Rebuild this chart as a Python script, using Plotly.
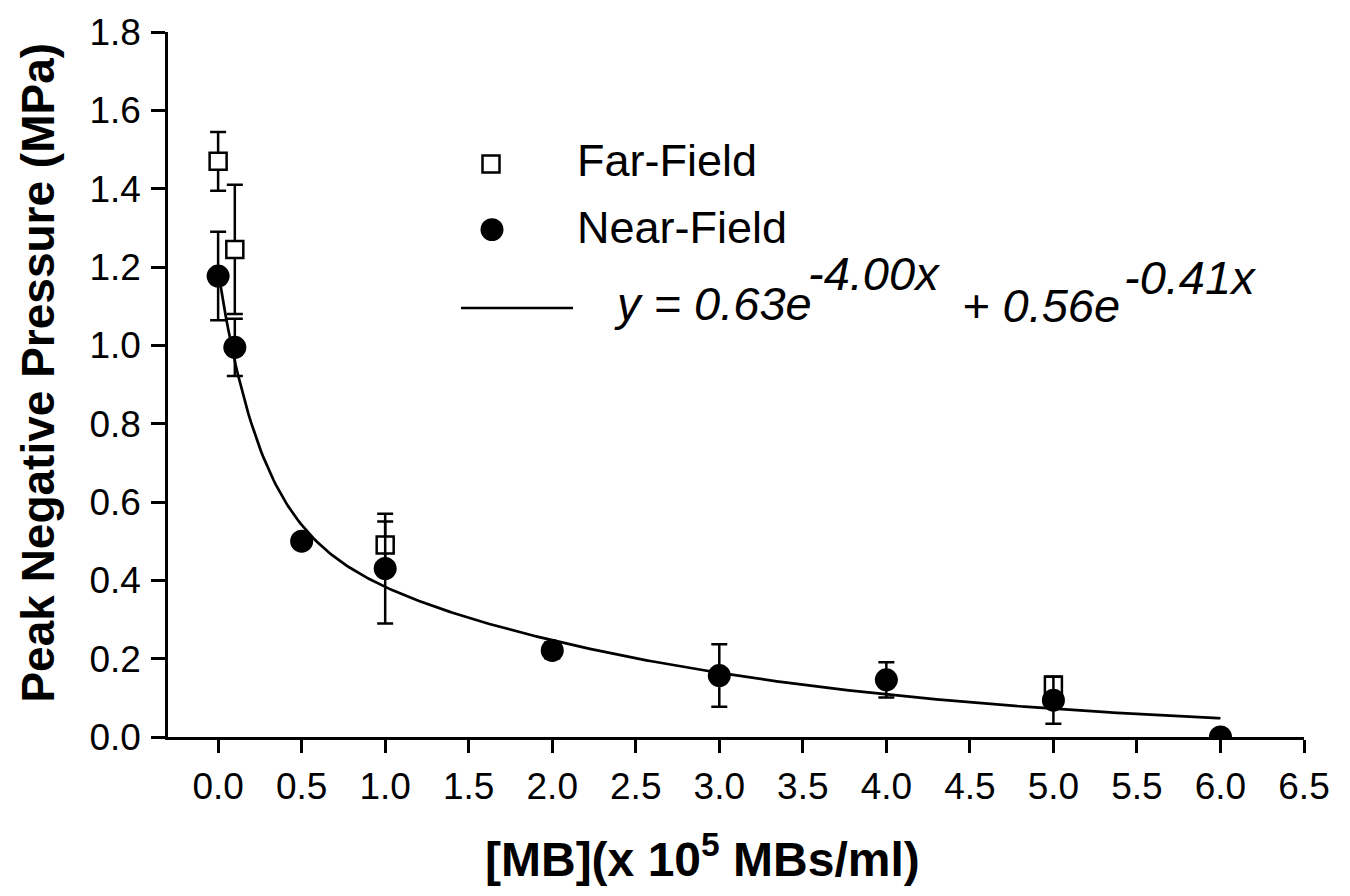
import numpy as np
import plotly.graph_objects as go

# ---- data ----
far_x = [0.0, 0.1, 1.0, 5.0]
far_y = [1.47, 1.245, 0.49, 0.133]
far_err = [0.075, 0.165, 0.06, 0.0]

near_x = [0.0, 0.1, 0.5, 1.0, 2.0, 3.0, 4.0, 5.0, 6.0]
near_y = [1.177, 0.995, 0.50, 0.43, 0.221, 0.157, 0.146, 0.094, 0.0]
near_err = [0.113, 0.073, 0.01, 0.14, 0.02, 0.08, 0.045, 0.06, 0.0]

# fit model printed on the chart: y = a1*exp(-k1 x) + a2*exp(-k2 x)
fit_a1, fit_k1, fit_a2, fit_k2 = 0.63, 4.00, 0.56, 0.41
fit_x_min, fit_x_max = 0.0, 6.0

x_ticks = [0.0, 0.5, 1.0, 1.5, 2.0, 2.5, 3.0, 3.5, 4.0, 4.5, 5.0, 5.5, 6.0, 6.5]
y_ticks = [0.0, 0.2, 0.4, 0.6, 0.8, 1.0, 1.2, 1.4, 1.6, 1.8]

FONT = "Liberation Sans, Arial, Helvetica, sans-serif"

fit_x = np.linspace(fit_x_min, fit_x_max, 400)
fit_y = fit_a1 * np.exp(-fit_k1 * fit_x) + fit_a2 * np.exp(-fit_k2 * fit_x)

fig = go.Figure()
fig.add_trace(go.Scatter(x=fit_x, y=fit_y, mode="lines",
                         line=dict(color="black", width=2.7),
                         showlegend=False, hoverinfo="skip"))
fig.add_trace(go.Scatter(
    x=far_x, y=far_y, mode="markers", name="Far-Field",
    marker=dict(symbol="square", size=17, color="white",
                line=dict(color="black", width=2.5)),
    error_y=dict(type="data", array=far_err, visible=True,
                 color="black", thickness=2.5, width=8),
    showlegend=False))
fig.add_trace(go.Scatter(
    x=near_x, y=near_y, mode="markers", name="Near-Field",
    marker=dict(symbol="circle", size=23, color="black",
                line=dict(color="black", width=0)),
    error_y=dict(type="data", array=near_err, visible=True,
                 color="black", thickness=2.5, width=8),
    showlegend=False))

W, H = 1350, 896
ML, MR, MT, MB = 168, 46, 27, 159
PW, PH = W - ML - MR, H - MT - MB


def px(xp):
    return (xp - ML) / PW


def py(yp):
    return (H - MB - yp) / PH


shapes = [
    # legend: Far-Field square
    dict(type="rect", xref="paper", yref="paper",
         x0=px(482.5), x1=px(499.5), y0=py(168.5), y1=py(151.5),
         line=dict(color="black", width=2.5), fillcolor="white"),
    # legend: Near-Field circle
    dict(type="circle", xref="paper", yref="paper",
         x0=px(480.5), x1=px(503.5), y0=py(237.5), y1=py(214.5),
         line=dict(color="black", width=0), fillcolor="black"),
    # legend: fit line
    dict(type="line", xref="paper", yref="paper",
         x0=px(461), x1=px(573), y0=py(305), y1=py(305),
         line=dict(color="black", width=2.5)),
]


def note(text, x, y, size, angle=0, xanchor="left"):
    return dict(text=text, x=px(x), y=py(y), xref="paper", yref="paper",
                xanchor=xanchor, yanchor="middle", showarrow=False,
                textangle=angle,
                font=dict(family=FONT, size=size, color="black"))


annotations = [
    note("Far-Field", 575, 156, 45),
    note("Near-Field", 575, 224, 45),
    note("<i>y = 0.63e</i>", 612, 300, 47),
    note("<i>-4.00x</i>", 806, 270, 47),
    note("<i>+ 0.56e</i>", 960, 302, 47),
    note("<i>-0.41x</i>", 1122, 274, 47),
    # axis titles
    note("<b>Peak Negative Pressure (MPa)</b>", 38, 370, 46, angle=-90,
         xanchor="center"),
    note("<b>[MB](x 10<sup>5</sup> MBs/ml)</b>", 702, 857, 48,
         xanchor="center"),
]

fig.update_layout(
    width=W, height=H,
    margin=dict(l=ML, r=MR, t=MT, b=MB, pad=0),
    paper_bgcolor="white", plot_bgcolor="white",
    showlegend=False,
    shapes=shapes, annotations=annotations,
    xaxis=dict(range=[-0.3, 6.5], tickvals=x_ticks,
               ticktext=[f"{v:.1f}" for v in x_ticks],
               showgrid=False, zeroline=False, showline=True,
               linecolor="black", linewidth=2.5,
               ticks="outside", ticklen=13, tickwidth=2.5, tickcolor="black",
               ticklabelstandoff=2,
               tickfont=dict(family=FONT, size=37, color="black")),
    yaxis=dict(range=[0, 1.8], tickvals=y_ticks,
               ticktext=[f"{v:.1f}" for v in y_ticks],
               showgrid=False, zeroline=False, showline=True,
               linecolor="black", linewidth=2.5,
               ticks="outside", ticklen=14, tickwidth=2.5, tickcolor="black",
               ticklabelstandoff=3,
               tickfont=dict(family=FONT, size=37, color="black")),
)

fig.write_html("out.html")
